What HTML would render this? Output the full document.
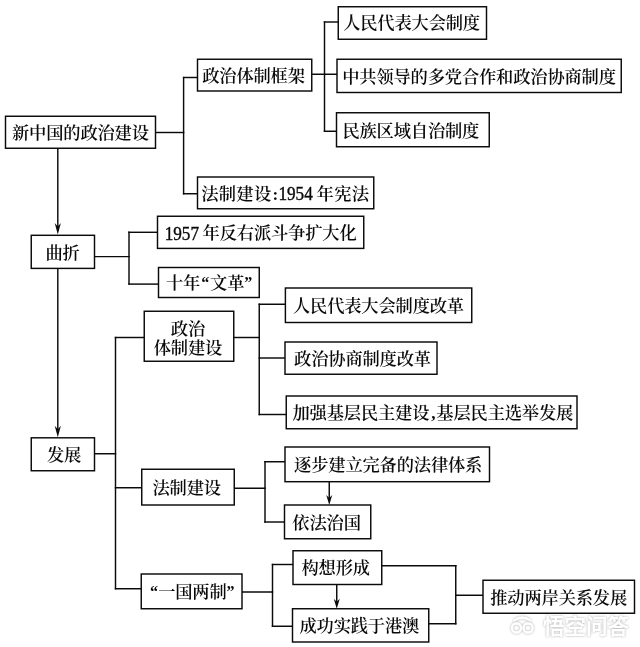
<!DOCTYPE html>
<html lang="zh-CN">
<head>
<meta charset="utf-8">
<title>新中国的政治建设</title>
<style>
html,body{margin:0;padding:0;background:#fff;}
body{width:640px;height:647px;overflow:hidden;position:relative;}
svg{display:block;position:absolute;left:0;top:0;filter:blur(0.25px);}
.t text{font-family:"Liberation Serif","Noto Serif CJK SC",serif;font-size:17.3px;font-weight:600;fill:#0a0a0a;text-anchor:middle;}
.t .d{font-family:"Liberation Serif",serif;font-size:18.8px;font-weight:400;text-anchor:start;stroke:#0a0a0a;stroke-width:0.4px;}
.t .p{font-family:"Liberation Serif",serif;font-weight:700;}
.t .q{font-family:"Liberation Serif",serif;font-weight:700;font-size:16px;}
.l{stroke:#0a0a0a;stroke-width:1.45;fill:none;stroke-linecap:square;}
.b{stroke:#0a0a0a;stroke-width:1.45;fill:#fff;}
.a{fill:#0a0a0a;stroke:none;}
.wm{font-family:"Liberation Sans","Noto Sans CJK SC",sans-serif;font-weight:700;font-size:21.5px;fill:#fff;}
</style>
</head>
<body>
<svg width="640" height="647" viewBox="0 0 640 647">
<rect x="0" y="0" width="640" height="647" fill="#fff"/>

<g class="l">
<line x1="155.5" y1="132.5" x2="183.6" y2="132.5"/>
<line x1="183.6" y1="77.5" x2="183.6" y2="193.75"/>
<line x1="183.6" y1="77.5" x2="197.5" y2="77.5"/>
<line x1="183.6" y1="193.75" x2="197.5" y2="193.75"/>
<line x1="311.75" y1="74.25" x2="337" y2="74.25"/>
<line x1="324.5" y1="22" x2="324.5" y2="131.25"/>
<line x1="324.5" y1="22" x2="338.25" y2="22"/>
<line x1="324.5" y1="131.25" x2="337" y2="131.25"/>
<line x1="57.8" y1="148.25" x2="57.8" y2="230"/>
<line x1="57.8" y1="268.25" x2="57.8" y2="432"/>
<line x1="94.5" y1="256.6" x2="129" y2="256.6"/>
<line x1="129" y1="232.3" x2="129" y2="284.1"/>
<line x1="129" y1="232.3" x2="157.5" y2="232.3"/>
<line x1="129" y1="284.1" x2="158.5" y2="284.1"/>
<line x1="94.5" y1="453.75" x2="115.5" y2="453.75"/>
<line x1="115.5" y1="337.5" x2="115.5" y2="588.75"/>
<line x1="115.5" y1="337.5" x2="144.25" y2="337.5"/>
<line x1="115.5" y1="487.75" x2="141.75" y2="487.75"/>
<line x1="115.5" y1="588.75" x2="141.25" y2="588.75"/>
<line x1="233.75" y1="337.5" x2="259.25" y2="337.5"/>
<line x1="259.25" y1="304.25" x2="259.25" y2="414.5"/>
<line x1="259.25" y1="304.25" x2="285" y2="304.25"/>
<line x1="259.25" y1="358" x2="285" y2="358"/>
<line x1="259.25" y1="414.5" x2="286.25" y2="414.5"/>
<line x1="234.25" y1="488.25" x2="265" y2="488.25"/>
<line x1="265" y1="461.75" x2="265" y2="522"/>
<line x1="265" y1="461.75" x2="285" y2="461.75"/>
<line x1="265" y1="522" x2="284.5" y2="522"/>
<line x1="329.25" y1="481.7" x2="329.25" y2="500"/>
<line x1="242" y1="592" x2="272.5" y2="592"/>
<line x1="272.5" y1="564.5" x2="272.5" y2="626.25"/>
<line x1="272.5" y1="564.5" x2="293" y2="564.5"/>
<line x1="272.5" y1="626.25" x2="292.5" y2="626.25"/>
<line x1="336.75" y1="584.5" x2="336.75" y2="604"/>
<line x1="381.75" y1="565.75" x2="455.75" y2="565.75"/>
<line x1="455.75" y1="565.75" x2="455.75" y2="623.75"/>
<line x1="428.75" y1="623.75" x2="455.75" y2="623.75"/>
<line x1="455.75" y1="595.25" x2="483" y2="595.25"/>
</g>
<g class="a">
<path d="M57.8 234.6 L54.7 223.1 L57.8 226.55 L60.9 223.1 Z"/>
<path d="M57.8 437.2 L54.7 425.7 L57.8 429.15 L60.9 425.7 Z"/>
<path d="M329.25 505 L326.25 495 L329.25 498 L332.25 495 Z"/>
<path d="M336.75 608.75 L333.75 598.75 L336.75 601.75 L339.75 598.75 Z"/>
</g>
<g class="b">
<rect x="5.5" y="116.25" width="150" height="32"/>
<rect x="197.5" y="59.25" width="114.25" height="31.75"/>
<rect x="197.5" y="177" width="176.25" height="31.75"/>
<rect x="338.25" y="6.75" width="148.25" height="32.5"/>
<rect x="337" y="59.25" width="284.25" height="33.25"/>
<rect x="336.5" y="112.75" width="152.75" height="34"/>
<rect x="31.25" y="235.3" width="63.25" height="33.1"/>
<rect x="157.5" y="216.25" width="206.25" height="32.15"/>
<rect x="158.5" y="267.5" width="100.75" height="30"/>
<rect x="144.25" y="311.25" width="89.5" height="50"/>
<rect x="285.4" y="288" width="186.35" height="34.5"/>
<rect x="285" y="342" width="152" height="32.25"/>
<rect x="286.25" y="396" width="290.75" height="32.75"/>
<rect x="31.25" y="437.8" width="63.25" height="32.95"/>
<rect x="141.75" y="469.25" width="92.5" height="35.75"/>
<rect x="285" y="447" width="204.5" height="34.7"/>
<rect x="284.5" y="505" width="86.25" height="33.75"/>
<rect x="141.25" y="574" width="100.75" height="34.75"/>
<rect x="293" y="550.75" width="88.75" height="33.75"/>
<rect x="292.5" y="608.75" width="136.25" height="33.25"/>
<rect x="483" y="580.25" width="151.5" height="33"/>
</g>
<g class="t">
<text><tspan x="20.65 37.75 54.85 71.95 89.05 106.15 123.25 140.35" y="139.08">新中国的政治建设</tspan></text>
<text><tspan x="210.88 227.97 245.07 262.18 279.27 296.38" y="82.05">政治体制框架</tspan></text>
<text><tspan x="209.82 227.42 245.02 262.62" y="199.70">法制建设</tspan><tspan class="p" x="275.42" y="199.70">:</tspan><tspan class="d" x="278.42" y="200.30" textLength="34.40" lengthAdjust="spacingAndGlyphs">1954</tspan> <tspan x="325.23 342.83 360.43" y="199.70">年宪法</tspan></text>
<text><tspan x="351.78 368.88 385.98 403.08 420.18 437.28 454.38 471.48" y="29.43">人民代表大会制度</tspan></text>
<text><tspan x="350.88 367.97 385.07 402.18 419.27 436.38 453.48 470.57 487.68 504.77 521.88 538.98 556.08 573.17 590.27 607.38" y="82.70">中共领导的多党合作和政治协商制度</tspan></text>
<text><tspan x="351.03 368.12 385.23 402.33 419.43 436.53 453.62 470.73" y="136.58">民族区域自治制度</tspan></text>
<text><tspan x="54.03 71.12" y="259.28">曲折</tspan></text>
<text><tspan class="d" x="164.67" y="239.75" textLength="34.40" lengthAdjust="spacingAndGlyphs">1957</tspan> <tspan x="211.23 228.33 245.43 262.53 279.63 296.73 313.83 330.93 348.03" y="239.15">年反右派斗争扩大化</tspan></text>
<text><tspan x="174.53 191.63" y="289.33">十年</tspan><tspan class="q" x="205.18" y="288.13">“</tspan><tspan x="218.73 235.83" y="289.33">文革</tspan><tspan class="q" x="248.18" y="288.13">”</tspan></text>
<text><tspan x="179.45 196.55" y="334.58">政治</tspan></text>
<text><tspan x="162.35 179.45 196.55 213.65" y="354.08">体制建设</tspan></text>
<text><tspan x="301.62 318.72 335.82 352.93 370.02 387.12 404.23 421.32 438.43 455.52" y="312.08">人民代表大会制度改革</tspan></text>
<text><tspan x="302.75 319.85 336.95 354.05 371.15 388.25 405.35 422.45" y="365.15">政治协商制度改革</tspan></text>
<text><tspan x="301.18 318.27 335.38 352.48 369.57 386.68 403.77 420.88" y="419.20">加强基层民主建设</tspan><tspan class="p" x="433.43" y="419.20">,</tspan><tspan x="444.98 462.07 479.18 496.28 513.38 530.48 547.58 564.67" y="419.20">基层民主选举发展</tspan></text>
<text><tspan x="55.53 72.62" y="461.40">发展</tspan></text>
<text><tspan x="161.15 178.25 195.35 212.45" y="493.95">法制建设</tspan></text>
<text><tspan x="302.75 319.85 336.95 354.05 371.15 388.25 405.35 422.45 439.55 456.65 473.75" y="471.18">逐步建立完备的法律体系</tspan></text>
<text><tspan x="300.98 318.07 335.18 352.28" y="528.70">依法治国</tspan></text>
<text><tspan class="q" x="153.97" y="597.00">“</tspan><tspan x="166.82 183.92 201.02 218.12" y="598.20">一国两制</tspan><tspan class="q" x="230.47" y="597.00">”</tspan></text>
<text><tspan x="310.12 327.22 344.32 361.43" y="574.45">构想形成</tspan></text>
<text><tspan x="308.12 325.22 342.32 359.43 376.52 393.62 410.73" y="632.20">成功实践于港澳</tspan></text>
<text><tspan x="498.90 516.00 533.10 550.20 567.30 584.40 601.50 618.60" y="603.58">推动两岸关系发展</tspan></text>
</g>
<g style="filter:drop-shadow(0.8px 0.9px 1px rgba(0,0,0,0.33))">
<text class="wm" x="543" y="634">悟空问答</text>
<g fill="none" stroke="#fff" stroke-width="2.6"><circle cx="516.5" cy="628" r="4.6"/><circle cx="528" cy="628" r="4.6"/><path d="M514.5 620.3 q7.7 -5.5 15.4 0" stroke-linecap="round"/></g></g>
</svg>
</body>
</html>
